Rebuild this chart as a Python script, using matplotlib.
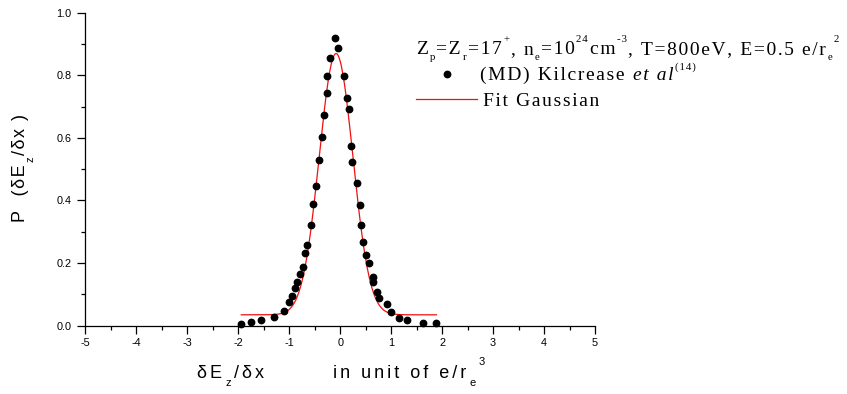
import numpy as np
import matplotlib
matplotlib.use("Agg")
import matplotlib.pyplot as plt
from matplotlib.lines import Line2D
from matplotlib.ticker import MultipleLocator

# MD data (Kilcrease et al)
md_x = [-1.953, -1.741, -1.560, -1.293, -1.109, -1.001, -0.950, -0.891, -0.838,
        -0.781, -0.724, -0.685, -0.646, -0.573, -0.528, -0.475, -0.416, -0.363,
        -0.318, -0.265, -0.253, -0.200, -0.102, -0.037,
        0.075, 0.128, 0.173, 0.206, 0.237, 0.324, 0.389, 0.408, 0.453, 0.500,
        0.565, 0.638, 0.644, 0.716, 0.757, 0.922, 0.997, 1.164, 1.321, 1.635, 1.880]
md_y = [0.006, 0.011, 0.017, 0.027, 0.047, 0.074, 0.094, 0.121, 0.138,
        0.165, 0.188, 0.233, 0.259, 0.321, 0.390, 0.445, 0.528, 0.602,
        0.673, 0.744, 0.798, 0.856, 0.918, 0.888,
        0.798, 0.727, 0.693, 0.574, 0.523, 0.456, 0.384, 0.321, 0.268, 0.226,
        0.201, 0.156, 0.139, 0.106, 0.087, 0.070, 0.042, 0.023, 0.019, 0.008, 0.008]

# Gaussian fit parameters
fit_y0 = 0.0345
fit_xc = -0.08
fit_sigma = 0.33
fit_A = 0.835
fit_xrange = [-1.94, 1.89]

xticks = [-5, -4, -3, -2, -1, 0, 1, 2, 3, 4, 5]
yticks = [0.0, 0.2, 0.4, 0.6, 0.8, 1.0]

legend_title = [('Z', 'n'), ('p', 'sub'), ('=Z', 'n'), ('r', 'sub'), ('=17', 'n'), ('+', 'sup'),
                (', n', 'n'), ('e', 'sub'), ('=10', 'n'), ('24', 'sup'), ('cm', 'n'), ('-3', 'sup'),
                (', T=800eV, E=0.5 e/r', 'n'), ('e', 'sub'), ('2', 'sup')]
legend_md = [('(MD) Kilcrease ', 'n'), ('et al', 'it'), ('(14)', 'sup')]
legend_fit = [('Fit Gaussian', 'n')]
xlabel_a = [('δE', 'n'), ('z', 'sub'), ('/δx', 'n')]
xlabel_b = [('in unit of e/r', 'n'), ('e', 'sub'), ('3', 'sup')]
ylabel = [('P  (δE', 'n'), ('z', 'sub'), ('/δx )', 'n')]

W, H = 847, 394
fig = plt.figure(figsize=(W / 100, H / 100), dpi=100)
ax = fig.add_axes([85.3 / W, 1 - 325.6 / H, (595 - 85.3) / W, (325.6 - 12.7) / H])

fx = np.linspace(fit_xrange[0], fit_xrange[1], 400)
fy = fit_y0 + fit_A * np.exp(-(fx - fit_xc) ** 2 / (2 * fit_sigma ** 2))
ax.plot(fx, fy, color='#f01010', lw=0.9, zorder=2)
ax.plot(md_x, md_y, 'o', color='black', ms=4.6, mec='black', zorder=3, clip_on=False)

ax.set_xlim(-5, 5)
ax.set_ylim(0, 1.0)
ax.set_xticks(xticks)
ax.set_xticklabels([str(v) for v in xticks])
ax.set_yticks(yticks)
ax.set_yticklabels(['%.1f' % v for v in yticks])
ax.xaxis.set_minor_locator(MultipleLocator(0.5))
ax.yaxis.set_minor_locator(MultipleLocator(0.1))
for s in ['top', 'right']:
    ax.spines[s].set_visible(False)
for s in ['left', 'bottom']:
    ax.spines[s].set_linewidth(0.9)
ax.tick_params(which='major', direction='out', length=5.8, width=0.9, labelsize=7.8)
ax.tick_params(which='minor', direction='out', length=3, width=0.9)
ax.tick_params(axis='x', which='major', pad=3)
ax.tick_params(axis='y', which='major', pad=4)
for lab in ax.get_xticklabels() + ax.get_yticklabels():
    lab.set_family(['Liberation Sans', 'DejaVu Sans'])

renderer = fig.canvas.get_renderer()
HS = '\u200a'


def spaced(s, n):
    return (HS * n).join(list(s))


def rich(x_px, y_px, segs, size, family, n_hs, gap_px, sub_dy, sup_dy, small=0.6,
         vertical=False):
    """Draw a run of text segments; (x_px, y_px) is the baseline start in pixels
    from the top-left corner. vertical=True draws text rotated 90 degrees."""
    pos = y_px if vertical else x_px
    for s, kind in segs:
        fs = size if kind in ('n', 'it') else size * small
        off = 0
        if kind == 'sub':
            off = -sub_dy
        elif kind == 'sup':
            off = sup_dy
        if vertical:
            px, py = x_px - off, pos
        else:
            px, py = pos, y_px - off
        t = fig.text(px / W, 1 - py / H, spaced(s, n_hs), fontsize=fs,
                     family=family, style='italic' if kind == 'it' else 'normal',
                     ha='left', va='baseline', rotation=90 if vertical else 0,
                     rotation_mode='anchor')
        bb = t.get_window_extent(renderer)
        if vertical:
            pos -= bb.height + gap_px
        else:
            pos += bb.width + gap_px
    return pos


sans = ['Liberation Sans', 'DejaVu Sans']
serif = ['Liberation Serif', 'DejaVu Serif']

# y label
rich(25, 222, ylabel, 13, sans, 1, 2, 8, 13, small=0.62, vertical=True)
# x label
rich(197, 378, xlabel_a, 13, sans, 2, 3, 8, 13, small=0.62)
rich(333, 378, xlabel_b, 13, sans, 2, 3, 8, 13, small=0.62)

# legend
rich(416, 54, legend_title, 14, serif, 1, 1.5, 6, 12, small=0.56)
fig.add_artist(Line2D([446.7 / W], [1 - 74 / H], marker='o', color='black', ms=4.6,
                      transform=fig.transFigure))
rich(480, 80, legend_md, 14, serif, 1, 1.5, 6, 10, small=0.56)
fig.add_artist(Line2D([416 / W, 477 / W], [1 - 99.3 / H, 1 - 99.3 / H], color='#f01010',
                      lw=0.9, transform=fig.transFigure))
rich(483, 106, legend_fit, 14, serif, 1, 1.5, 6, 12, small=0.56)

fig.savefig('out.png', dpi=100)
